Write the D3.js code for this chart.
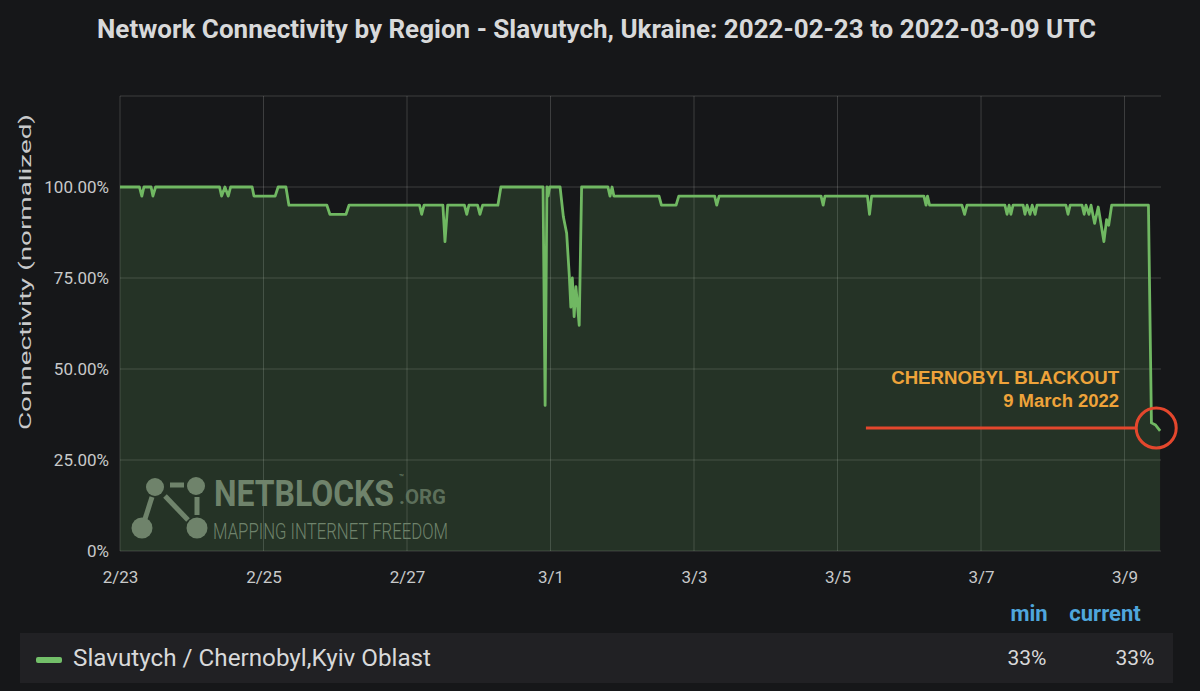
<!DOCTYPE html>
<html>
<head>
<meta charset="utf-8">
<script src="https://cdn.jsdelivr.net/npm/d3@7"></script>
<style>
  html, body { margin: 0; padding: 0; background: #161719; }
  svg { display: block; font-family: Roboto, "Noto Sans", Arial, sans-serif; }
</style>
</head>
<body>
<svg id="chart" width="1200" height="691"></svg>
<script>
// ---- DATA ----
const startISO = "2022-02-23T00:00:00Z";
const endHour = 348.2; // hours after start where plot ends
// hours since 2022-02-23 00:00 UTC
const hours = [
  0, 6.5, 7.3, 8.0, 10.4, 11.0, 11.9,
  33.3, 34.0, 35.1, 36.2, 37.0,
  44.2, 44.8, 51.9, 52.9, 55.5, 56.5,
  69.2, 70.2, 75.6, 76.6,
  100.2, 100.9, 101.7, 108.0, 108.7, 109.6, 115.2, 116.0, 116.7, 119.6, 120.4, 121.3,
  126.4, 127.4, 141.5, 142.2, 142.8, 143.2, 143.7,
  147.2, 148.3, 149.4, 150.3, 150.8, 151.3, 151.9, 152.5, 153.6, 154.4,
  163.2, 163.9, 164.6, 165.2,
  180.3, 181.1, 186.0, 186.9,
  198.9, 199.6, 200.4, 234.5, 235.2, 235.8, 250.0, 250.7, 251.4,
  268.9, 269.6, 270.1, 270.8,
  281.6, 282.5, 283.3, 296.0, 296.7, 297.4, 298.0, 298.7,
  302.1, 302.7, 303.4, 304.4, 305.1, 306.1, 306.7, 316.4, 317.1, 317.8,
  321.8, 322.5, 323.1, 324.1, 324.8, 326.0, 327.2, 329.1, 330.0, 330.7, 331.7,
  344.0, 345.0, 346.4, 347.9
];
// connectivity (normalized, %)
const connectivity = [
  100, 100, 97.5, 100, 100, 97.5, 100,
  100, 97.5, 100, 97.5, 100,
  100, 97.5, 97.5, 100, 100, 95,
  95, 92.5, 92.5, 95,
  95, 92.5, 95, 95, 85, 95, 95, 92.5, 95, 95, 92.5, 95,
  95, 100, 100, 40, 100, 97.5, 100,
  100, 91.8, 87.3, 75.4, 67, 75, 64.4, 72.6, 62, 100,
  100, 97.5, 100, 97.5,
  97.5, 95, 95, 97.5,
  97.5, 95, 97.5, 97.5, 95, 97.5, 97.5, 92.5, 97.5,
  97.5, 95, 97.5, 95,
  95, 92.5, 95, 95, 92.5, 95, 92.5, 95,
  95, 92.5, 95, 92.5, 95, 92.5, 95, 95, 92.5, 95,
  95, 92.5, 95, 92.5, 95, 90, 94.5, 85, 91, 89.5, 95,
  95, 35.2, 34.6, 33
];
const seriesName = "Slavutych / Chernobyl,Kyiv Oblast";
const xTickLabels = ["2/23", "2/25", "2/27", "3/1", "3/3", "3/5", "3/7", "3/9"];
const xTickDates = ["2022-02-23", "2022-02-25", "2022-02-27", "2022-03-01", "2022-03-03", "2022-03-05", "2022-03-07", "2022-03-09"];
const yTickValues = [0, 25, 50, 75, 100];
const yTickLabels = ["0%", "25.00%", "50.00%", "75.00%", "100.00%"];
const yGridValues = [0, 25, 50, 75, 100, 125];
const legendStats = ["min", "current"];
const annotationLines = ["CHERNOBYL BLACKOUT", "9 March 2022"];
const annotationPoint = { hour: 346.6, value: 33.8 };
const annotationLineStartHour = 249.5;
const annotationTextHour = 334.2;
const annotationTextValues = [45.9, 39.6];

(function () {
// ---- SCALES ----
const start = new Date(startISO);
const H = 3600 * 1000;
const toDate = h => new Date(start.getTime() + h * H);
const data = hours.map((h, i) => ({ t: toDate(h), v: connectivity[i] }));

const pLeft = 120, pRight = 1161, pTop = 96, pBottom = 551;
const x = d3.scaleUtc().domain([start, toDate(endHour)]).range([pLeft, pRight]);
const y = d3.scaleLinear().domain([0, 125]).range([pBottom, pTop]);

const svg = d3.select("#chart");
svg.append("rect").attr("width", 1200).attr("height", 691).attr("fill", "#161719");

// Title
svg.append("text")
  .attr("x", 97).attr("y", 38)
  .attr("textLength", 999).attr("lengthAdjust", "spacingAndGlyphs")
  .attr("fill", "#d8d9da").attr("font-size", 25).attr("font-weight", "bold")
  .text("Network Connectivity by Region - Slavutych, Ukraine: 2022-02-23 to 2022-03-09 UTC");

// Grid
const grid = svg.append("g");
grid.selectAll("line.h").data(yGridValues).join("line")
  .attr("class", "h")
  .attr("x1", pLeft).attr("x2", pRight)
  .attr("y1", d => y(d)).attr("y2", d => y(d))
  .attr("stroke", "rgba(255,255,255,0.17)").attr("stroke-width", 1);
grid.selectAll("line.v").data(xTickDates).join("line")
  .attr("class", "v")
  .attr("x1", d => x(new Date(d + "T00:00:00Z"))).attr("x2", d => x(new Date(d + "T00:00:00Z")))
  .attr("y1", pTop).attr("y2", pBottom)
  .attr("stroke", "rgba(255,255,255,0.17)").attr("stroke-width", 1);

// Watermark (NetBlocks)
const wm = svg.append("g").attr("fill", "#6f786c").attr("stroke", "#6f786c");
[[155, 487, 9], [196, 486, 9], [142, 528, 10.5], [197, 528, 10.5]].forEach(c => {
  wm.append("circle").attr("cx", c[0]).attr("cy", c[1]).attr("r", c[2]).attr("stroke", "none");
});
[[170, 485, 184, 485], [152, 497, 145, 519], [165, 496, 188, 520], [197, 497, 197, 515]].forEach(l => {
  wm.append("line").attr("x1", l[0]).attr("y1", l[1]).attr("x2", l[2]).attr("y2", l[3])
    .attr("stroke-width", 5).attr("fill", "none");
});
wm.append("text").attr("stroke", "none")
  .attr("transform", "translate(214,506) scale(1,1.3)")
  .attr("font-size", 29).attr("font-weight", "bold")
  .attr("textLength", 180).attr("lengthAdjust", "spacingAndGlyphs").text("NETBLOCKS");
wm.append("text").attr("x", 399).attr("y", 480).attr("stroke", "none")
  .attr("font-size", 8).text("™");
wm.append("text").attr("x", 399).attr("y", 504).attr("stroke", "none")
  .attr("font-size", 20).attr("font-weight", "bold").attr("fill-opacity", 0.75)
  .attr("textLength", 47).attr("lengthAdjust", "spacingAndGlyphs").text(".ORG");
wm.append("text").attr("x", 213).attr("y", 539).attr("stroke", "none")
  .attr("font-size", 22).attr("font-weight", 300)
  .attr("textLength", 235).attr("lengthAdjust", "spacingAndGlyphs").text("MAPPING INTERNET FREEDOM");

// Area + line
const area = d3.area().x(d => x(d.t)).y0(y(0)).y1(d => y(d.v));
const line = d3.line().x(d => x(d.t)).y(d => y(d.v));
svg.append("path").datum(data).attr("d", area).attr("fill", "rgba(115,191,105,0.17)");
svg.append("path").datum(data).attr("d", line)
  .attr("fill", "none").attr("stroke", "#70b862").attr("stroke-width", 2.8)
  .attr("stroke-linejoin", "round");

// Axes
const xAxis = d3.axisBottom(x)
  .tickValues(xTickDates.map(d => new Date(d + "T00:00:00Z")))
  .tickFormat((d, i) => xTickLabels[i]).tickSize(0).tickPadding(0);
const gx = svg.append("g").attr("transform", `translate(0,${pBottom + 20})`).call(xAxis);
gx.select(".domain").remove();
gx.selectAll("text").attr("fill", "#c8c9ca").attr("font-size", 17)
  .attr("font-family", "Roboto, sans-serif").attr("dy", "0.71em");

const yAxis = d3.axisLeft(y).tickValues(yTickValues)
  .tickFormat((d, i) => yTickLabels[i]).tickSize(0).tickPadding(0);
const gy = svg.append("g").attr("transform", `translate(109,0)`).call(yAxis);
gy.select(".domain").remove();
gy.selectAll("text").attr("fill", "#c8c9ca").attr("font-size", 17)
  .attr("font-family", "Roboto, sans-serif");

svg.append("text")
  .attr("transform", "translate(31,272) rotate(-90)")
  .attr("text-anchor", "middle").attr("fill", "#c8c9ca").attr("font-size", 17)
  .attr("textLength", 316).attr("lengthAdjust", "spacingAndGlyphs")
  .text("Connectivity (normalized)");

// Annotation
const cx = x(toDate(annotationPoint.hour)), cy = y(annotationPoint.value), r = 20;
svg.append("line")
  .attr("x1", x(toDate(annotationLineStartHour))).attr("x2", cx - r)
  .attr("y1", cy).attr("y2", cy)
  .attr("stroke", "#e4472d").attr("stroke-width", 3);
svg.append("circle").attr("cx", cx).attr("cy", cy).attr("r", r)
  .attr("fill", "none").attr("stroke", "#e4472d").attr("stroke-width", 3);
const annotLen = [228, 116];
svg.selectAll("text.annot").data(annotationLines).join("text")
  .attr("class", "annot")
  .attr("x", x(toDate(annotationTextHour)))
  .attr("y", (d, i) => y(annotationTextValues[i]))
  .attr("text-anchor", "end").attr("fill", "#eea33a")
  .attr("font-size", 17.5).attr("font-weight", "bold")
  .attr("font-family", "Liberation Sans, Arial, sans-serif")
  .attr("textLength", (d, i) => annotLen[i]).attr("lengthAdjust", "spacingAndGlyphs")
  .text(d => d);

// Legend
const minVal = d3.min(connectivity), curVal = connectivity[connectivity.length - 1];
const statX = [1029, 1105];
const valX = [1027, 1135];
svg.selectAll("text.stat").data(legendStats).join("text")
  .attr("class", "stat")
  .attr("x", (d, i) => statX[i]).attr("y", 621)
  .attr("text-anchor", "middle").attr("fill", "#4fa6dc")
  .attr("font-size", 22).attr("font-weight", "bold")
  .text(d => d);
svg.append("rect").attr("x", 20).attr("y", 633).attr("width", 1153).attr("height", 50)
  .attr("fill", "#212124");
svg.append("rect").attr("x", 36).attr("y", 657).attr("width", 26).attr("height", 6)
  .attr("rx", 2).attr("fill", "#73bf69");
svg.append("text").attr("x", 73).attr("y", 666)
  .attr("fill", "#d8d9da").attr("font-size", 23)
  .attr("textLength", 358).attr("lengthAdjust", "spacingAndGlyphs")
  .text(seriesName);
svg.selectAll("text.val").data([minVal, curVal]).join("text")
  .attr("class", "val")
  .attr("x", (d, i) => valX[i]).attr("y", 665)
  .attr("text-anchor", "middle").attr("fill", "#d8d9da").attr("font-size", 21)
  .text(d => Math.round(d) + "%");
})();
</script>
</body>
</html>
